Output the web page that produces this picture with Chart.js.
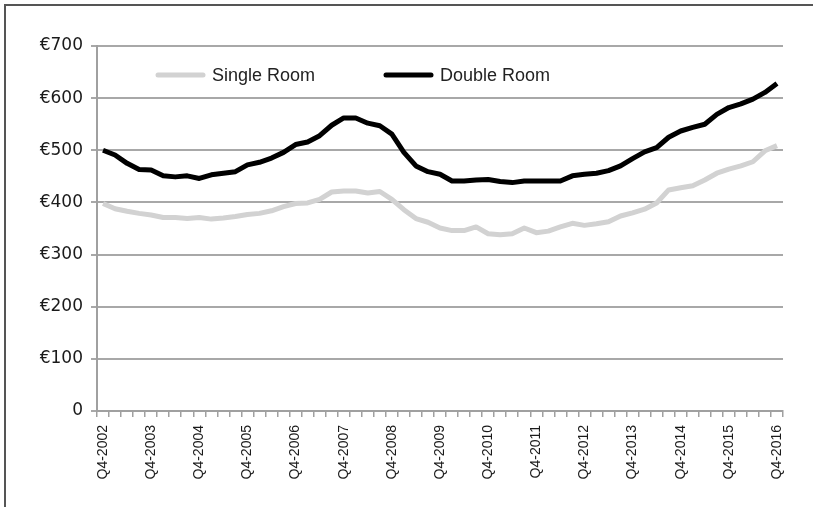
<!DOCTYPE html>
<html>
<head>
<meta charset="utf-8">
<title>Average monthly rent: single and double rooms</title>
<script src="https://cdn.jsdelivr.net/npm/chart.js@4.4.1/dist/chart.umd.min.js"></script>
<style>
  html, body { margin: 0; padding: 0; background: #fff; overflow: hidden; }
  canvas { display: block; }
</style>
</head>
<body>
<canvas id="chart" width="813" height="507"></canvas>
<script>
// Quarterly categories, Q4-2002 .. Q4-2016
const quarters = [];
for (let y = 2002; y <= 2016; y++) {
  const qs = y === 2002 ? [4] : [1, 2, 3, 4];
  for (const q of qs) quarters.push('Q' + q + '-' + y);
}

const singleRoom = [
  398, 388, 383, 379, 376, 371, 371, 369, 371, 368, 370, 373, 377, 379, 384, 392,
  398, 399, 406, 420, 422, 422, 418, 421, 406, 386, 369, 362, 351, 346, 346, 353,
  340, 338, 340, 351, 342, 345, 353, 360, 356, 359, 363, 374, 380, 387, 399, 424,
  428, 432, 443, 456, 464, 470, 478, 499, 509
];

const doubleRoom = [
  500, 491, 475, 463, 462, 451, 449, 451, 446, 453, 456, 459, 472, 477, 485, 496,
  511, 516, 528, 548, 562, 562, 552, 547, 531, 496, 470, 459, 454, 441, 441, 443,
  444, 440, 438, 441, 441, 441, 441, 451, 454, 456, 461, 470, 484, 497, 505, 525,
  537, 544, 550, 569, 582, 589, 598, 611, 628
];

const yTicks = [0, 100, 200, 300, 400, 500, 600, 700];

// Outer frame: top and left edges only
const outerFrame = {
  id: 'outerFrame',
  beforeDraw(chart) {
    const ctx = chart.ctx;
    ctx.save();
    ctx.strokeStyle = '#555';
    ctx.lineWidth = 2;
    ctx.beginPath();
    ctx.moveTo(5, chart.height);
    ctx.lineTo(5, 5);
    ctx.lineTo(chart.width, 5);
    ctx.stroke();
    ctx.restore();
  }
};

// Legend drawn inside the plot area, in a single row near the top
const innerLegend = {
  id: 'innerLegend',
  afterDraw(chart) {
    const ctx = chart.ctx;
    const area = chart.chartArea;
    const y = area.top + 29;
    const items = [
      { x: area.left + 61, ds: chart.data.datasets[0] },
      { x: area.left + 289, ds: chart.data.datasets[1] }
    ];
    ctx.save();
    ctx.font = '18px "Liberation Sans", Arial, sans-serif';
    ctx.textBaseline = 'middle';
    ctx.textAlign = 'left';
    for (const it of items) {
      ctx.strokeStyle = it.ds.borderColor;
      ctx.lineWidth = 5;
      ctx.lineCap = 'round';
      ctx.beginPath();
      ctx.moveTo(it.x, y);
      ctx.lineTo(it.x + 45, y);
      ctx.stroke();
      ctx.fillStyle = '#222';
      ctx.fillText(it.ds.label, it.x + 54, y + 1);
    }
    ctx.restore();
  }
};

new Chart(document.getElementById('chart'), {
  type: 'line',
  data: {
    labels: quarters,
    datasets: [
      {
        label: 'Single Room',
        data: singleRoom,
        borderColor: '#d2d2d2',
        borderWidth: 5,
        pointRadius: 0,
        tension: 0,
        borderJoinStyle: 'round'
      },
      {
        label: 'Double Room',
        data: doubleRoom,
        borderColor: '#000000',
        borderWidth: 5,
        pointRadius: 0,
        tension: 0,
        borderJoinStyle: 'round'
      }
    ]
  },
  options: {
    responsive: false,
    animation: false,
    events: [],
    layout: { padding: { top: 46, right: 30, left: 0, bottom: 0 } },
    plugins: {
      legend: { display: false },
      tooltip: { enabled: false }
    },
    scales: {
      x: {
        type: 'category',
        offset: true,
        afterFit(scale) { scale.height = 96; },
        grid: {
          offset: true,
          drawOnChartArea: false,
          drawTicks: true,
          tickLength: 6,
          color: '#a0a0a0',
          lineWidth: 1.5
        },
        border: { color: '#a0a0a0', width: 2 },
        ticks: {
          autoSkip: false,
          maxRotation: 90,
          minRotation: 90,
          padding: 8,
          color: '#1a1a1a',
          font: { family: '"Liberation Sans", Arial, sans-serif', size: 14 },
          callback(value, index) { return index % 4 === 0 ? quarters[index] : ''; }
        }
      },
      y: {
        min: 0,
        max: 700,
        afterFit(scale) { scale.width = 97; },
        afterBuildTicks(scale) { scale.ticks = yTicks.map(v => ({ value: v })); },
        grid: {
          color: '#a8a8a8',
          lineWidth: 2,
          drawTicks: true,
          tickLength: 6
        },
        border: { color: '#a0a0a0', width: 2 },
        ticks: {
          padding: 8,
          color: '#1a1a1a',
          font: { family: '"DejaVu Sans", Verdana, sans-serif', size: 17 },
          callback(value) { return value === 0 ? '0' : '€' + value; }
        }
      }
    }
  },
  plugins: [outerFrame, innerLegend]
});
</script>
</body>
</html>
